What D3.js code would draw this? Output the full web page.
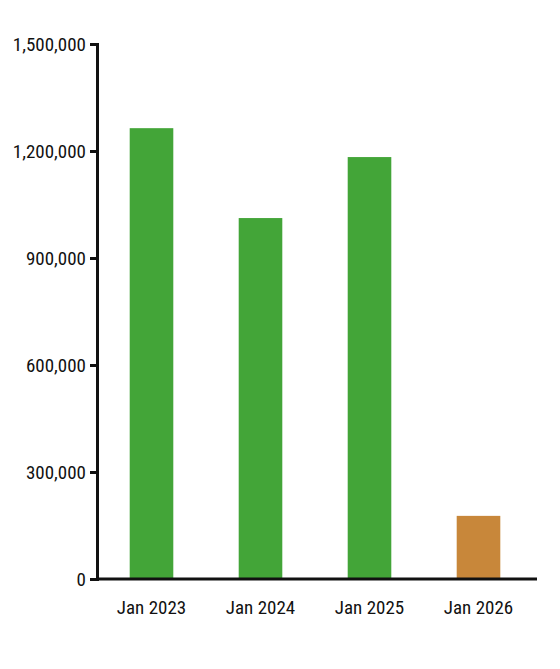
<!DOCTYPE html>
<html>
<head>
<meta charset="utf-8">
<script src="https://cdn.jsdelivr.net/npm/d3@7"></script>
<style>
  body { margin: 0; background: #fff; }
  text { font-family: "Liberation Sans Narrow", "Roboto", sans-serif; font-stretch: condensed; fill: #111; }
</style>
</head>
<body>
<div id="chart"></div>
<script>
var categories = ["Jan 2023", "Jan 2024", "Jan 2025", "Jan 2026"];
var values = [1264000, 1012000, 1183000, 177000];
var barColors = ["#43a538", "#43a538", "#43a538", "#c8873a"];
var yTicks = [0, 300000, 600000, 900000, 1200000, 1500000];

var width = 560, height = 669,
    margin = { top: 44, right: 27, bottom: 90, left: 97 };

var svg = d3.select("#chart").append("svg")
    .attr("width", width).attr("height", height);

var x = d3.scaleBand().domain(categories)
    .range([margin.left, width - margin.right]).paddingInner(0.6).paddingOuter(0.3);
var y = d3.scaleLinear().domain([0, 1500000])
    .range([height - margin.bottom, margin.top]);

svg.selectAll("rect.bar").data(values).enter().append("rect")
    .attr("class", "bar")
    .attr("x", (d, i) => x(categories[i]))
    .attr("width", x.bandwidth())
    .attr("y", d => y(d))
    .attr("height", d => y(0) - y(d))
    .attr("fill", (d, i) => barColors[i]);

// y axis
var yAxis = svg.append("g")
    .attr("transform", `translate(${margin.left},0)`)
    .call(d3.axisLeft(y).tickValues(yTicks).tickSize(7).tickPadding(4)
        .tickFormat(d3.format(",")));
yAxis.select(".domain").attr("stroke", "#111").attr("stroke-width", 3);
yAxis.selectAll(".tick line").attr("stroke", "#111").attr("stroke-width", 3);
yAxis.selectAll("text").style("font-size", "19px");

// x axis
var xAxis = svg.append("g")
    .attr("transform", `translate(0,${y(0)})`)
    .call(d3.axisBottom(x).tickSize(0).tickPadding(22));
xAxis.select(".domain").attr("stroke", "#111").attr("stroke-width", 3)
    .attr("d", `M${margin.left},0H${width - 23}`);
xAxis.selectAll("text").style("font-size", "19px");
</script>
</body>
</html>
